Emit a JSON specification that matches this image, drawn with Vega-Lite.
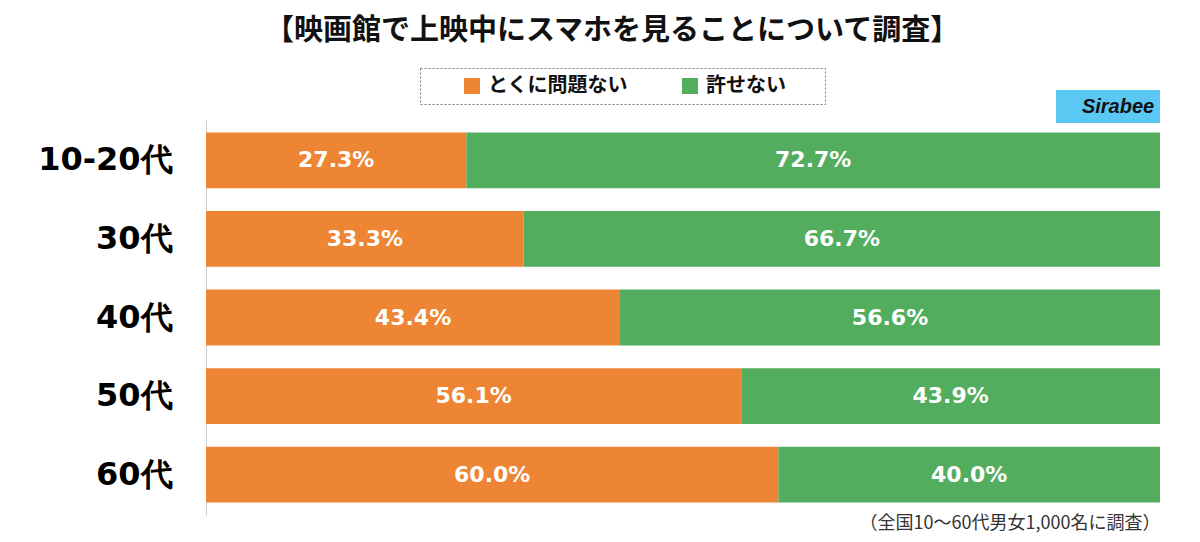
{
  "$schema": "https://vega.github.io/schema/vega-lite/v6.json",
  "width": 954,
  "height": 395,
  "autosize": "none",
  "padding": {"left": 206, "top": 120, "right": 40, "bottom": 27},
  "background": "white",
  "title": {
    "text": "【映画館で上映中にスマホを見ることについて調査】",
    "fontSize": 29,
    "font": "Noto Sans CJK JP",
    "fontWeight": "bold",
    "color": "#111111",
    "anchor": "middle",
    "dx": -71,
    "offset": 22
  },
  "config": {"view": {"stroke": null}},
  "data": {
    "values": [
      {"age": "10-20代", "answer": "とくに問題ない", "rank": 1, "share": 0.273},
      {"age": "10-20代", "answer": "許せない", "rank": 2, "share": 0.727},
      {"age": "30代", "answer": "とくに問題ない", "rank": 1, "share": 0.333},
      {"age": "30代", "answer": "許せない", "rank": 2, "share": 0.667},
      {"age": "40代", "answer": "とくに問題ない", "rank": 1, "share": 0.434},
      {"age": "40代", "answer": "許せない", "rank": 2, "share": 0.566},
      {"age": "50代", "answer": "とくに問題ない", "rank": 1, "share": 0.561},
      {"age": "50代", "answer": "許せない", "rank": 2, "share": 0.439},
      {"age": "60代", "answer": "とくに問題ない", "rank": 1, "share": 0.600},
      {"age": "60代", "answer": "許せない", "rank": 2, "share": 0.400}
    ]
  },
  "layer": [
    {
      "mark": {"type": "bar"},
      "encoding": {
        "y": {
          "field": "age",
          "type": "nominal",
          "sort": ["10-20代", "30代", "40代", "50代", "60代"],
          "scale": {"paddingInner": 0.29, "paddingOuter": 0.16},
          "axis": {
            "title": null,
            "ticks": false,
            "domainColor": "#cccccc",
            "domainWidth": 1,
            "labelFont": "DejaVu Sans",
            "labelFontWeight": "bold",
            "labelFontSize": 32,
            "labelColor": "#000000",
            "labelPadding": 34
          }
        },
        "x": {
          "field": "share",
          "type": "quantitative",
          "stack": "zero",
          "scale": {"domain": [0, 1], "nice": false},
          "axis": {
            "title": "（全国10〜60代男女1,000名に調査）",
            "labels": false,
            "ticks": false,
            "domain": false,
            "grid": false,
            "titleAnchor": "end",
            "titleFontSize": 18,
            "titleFontWeight": "normal",
            "titleColor": "#333333",
            "titlePadding": -1,
            "titleFont": "Noto Sans CJK JP"
          }
        },
        "color": {
          "field": "answer",
          "type": "nominal",
          "scale": {"domain": ["とくに問題ない", "許せない"], "range": ["#ee8534", "#52ad5e"]},
          "legend": {
            "orient": "none",
            "legendX": 214,
            "legendY": -52,
            "direction": "horizontal",
            "gridAlign": "none",
            "title": "\u3000",
            "titleOrient": "right",
            "titleFontSize": 20,
            "titlePadding": 31,
            "symbolType": "square",
            "symbolSize": 256,
            "symbolStrokeWidth": 0,
            "labelFontSize": 20,
            "labelFont": "Noto Sans CJK JP",
            "labelFontWeight": "bold",
            "labelColor": "#111111",
            "columnPadding": 18,
            "labelOffset": 6,
            "padding": 8,
            "symbolOffset": 34,
            "strokeColor": "#777777",
            "fillColor": "white",
            "encode": {"legend": {"update": {"strokeDash": {"value": [2, 2]}}}}
          }
        },
        "order": {"field": "rank", "type": "quantitative"}
      }
    },
    {
      "transform": [
        {"stack": "share", "groupby": ["age"], "sort": [{"field": "rank"}], "as": ["s0", "s1"]},
        {"calculate": "(datum.s0 + datum.s1) / 2", "as": "mid"}
      ],
      "mark": {"type": "text", "color": "white", "fontSize": 22, "fontWeight": "bold", "font": "DejaVu Sans"},
      "encoding": {
        "y": {"field": "age", "type": "nominal", "sort": ["10-20代", "30代", "40代", "50代", "60代"]},
        "x": {"field": "mid", "type": "quantitative"},
        "text": {"field": "share", "type": "quantitative", "format": ".1%"}
      }
    },
    {
      "data": {"values": [{"brand": "Sirabee"}]},
      "mark": {"type": "rect", "color": "#5bc8f4"},
      "encoding": {
        "x": {"datum": 0.891},
        "x2": {"datum": 1.0},
        "y": {"value": -30},
        "y2": {"value": 3}
      }
    },
    {
      "data": {"values": [{"brand": "Sirabee"}]},
      "mark": {"type": "text", "color": "#111111", "fontSize": 20, "fontWeight": "bold", "fontStyle": "italic", "font": "Liberation Sans", "align": "center", "baseline": "middle"},
      "encoding": {
        "x": {"datum": 0.956},
        "y": {"value": -13},
        "text": {"field": "brand"}
      }
    }
  ]
}
